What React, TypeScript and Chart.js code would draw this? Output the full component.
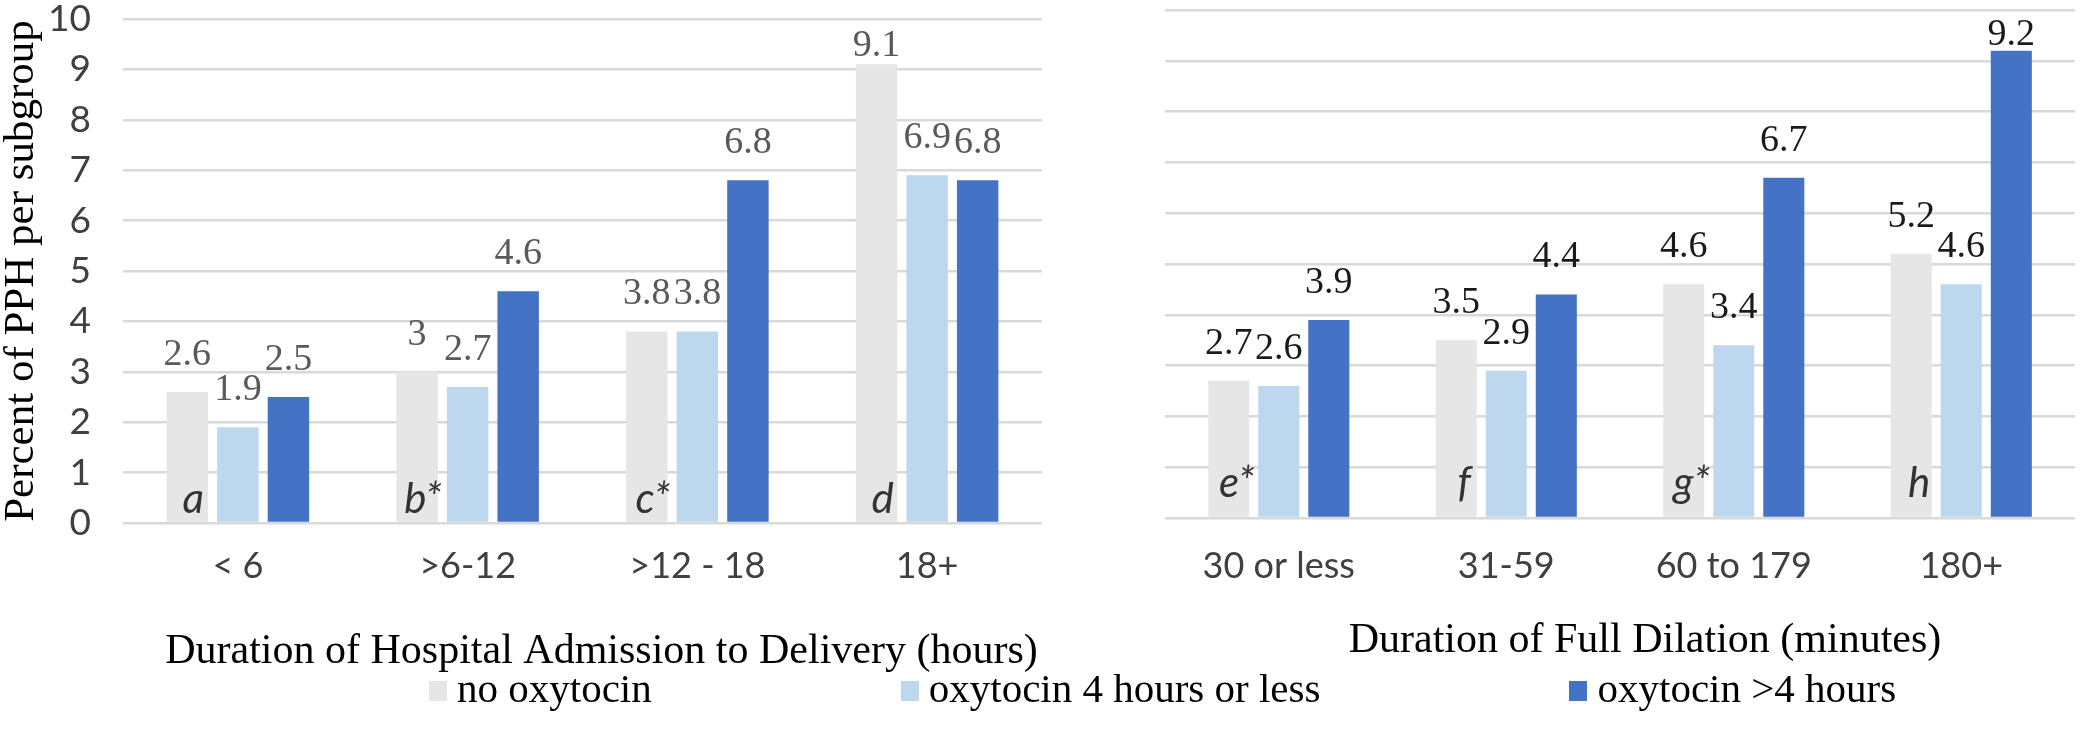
import React, { useEffect, useRef } from "react";
import { Chart, registerables } from "chart.js";

Chart.register(...registerables);

// ---------- data ----------
const seriesNames = ["no oxytocin", "oxytocin 4 hours or less", "oxytocin >4 hours"];
const seriesColors = ["#E7E6E6", "#BDD7EE", "#4472C4"];

const admissionCategories = ["< 6", ">6-12", ">12 - 18", "18+"];
const admissionNoOxytocin = [2.6, 3, 3.8, 9.1];
const admissionOxytocinShort = [1.9, 2.7, 3.8, 6.9];
const admissionOxytocinLong = [2.5, 4.6, 6.8, 6.8];
const admissionMarks = ["a", "b*", "c*", "d"];
const admissionTitle = "Duration of Hospital Admission to Delivery (hours)";

const dilationCategories = ["30 or less", "31-59", "60 to 179", "180+"];
const dilationNoOxytocin = [2.7, 3.5, 4.6, 5.2];
const dilationOxytocinShort = [2.6, 2.9, 3.4, 4.6];
const dilationOxytocinLong = [3.9, 4.4, 6.7, 9.2];
const dilationMarks = ["e*", "f", "g*", "h"];
const dilationTitle = "Duration of Full Dilation (minutes)";

const yAxisTitle = "Percent of PPH per subgroup";
const yMin = 0;
const yMax = 10;
const yStep = 1;

// ---------- styling ----------
const SERIF = "'Liberation Serif', 'Times New Roman', serif";
const SANS = "Lato, 'Liberation Sans', sans-serif";
const GRID = "#d9d9d9";
const LEFT_SHIFT = 40; // left canvas starts above the page to leave room for tick padding

type OverlayParams = {
  labelColor: string;
  labelFont: string;
  gap: number;
  minTop: number;
  marks: string[];
  markFont: string;
  markColor: string;
  markShift: number;
  markLift: number;
  title: string;
  titleFont: string;
  titleShift: number;
  titleY: number;
};

function makeOverlay(p: OverlayParams) {
  return {
    id: "overlay",
    afterDatasetsDraw(chart: any) {
      const { ctx, chartArea } = chart;
      ctx.save();
      ctx.textAlign = "center";
      ctx.textBaseline = "alphabetic";
      ctx.font = p.labelFont;
      ctx.fillStyle = p.labelColor;
      chart.data.datasets.forEach((ds: any, di: number) => {
        const meta = chart.getDatasetMeta(di);
        meta.data.forEach((bar: any, i: number) => {
          const v = ds.data[i];
          const baseline = Math.max(bar.y - p.gap, chartArea.top + p.minTop);
          ctx.fillText(String(v), bar.x, baseline);
        });
      });
      const meta0 = chart.getDatasetMeta(0);
      ctx.font = p.markFont;
      ctx.fillStyle = p.markColor;
      meta0.data.forEach((bar: any, i: number) => {
        ctx.fillText(p.marks[i], bar.x + p.markShift, chartArea.bottom - p.markLift);
      });
      ctx.restore();
    },
    afterDraw(chart: any) {
      const { ctx, chartArea } = chart;
      ctx.save();
      ctx.font = p.titleFont;
      ctx.fillStyle = "#000";
      ctx.textAlign = "center";
      ctx.textBaseline = "middle";
      ctx.fillText(p.title, (chartArea.left + chartArea.right) / 2 + p.titleShift, p.titleY);
      ctx.restore();
    },
  };
}

function makeDatasets(a: number[], b: number[], c: number[]) {
  return [a, b, c].map((d, i) => ({
    label: seriesNames[i],
    data: d,
    backgroundColor: seriesColors[i],
    borderWidth: 0,
    categoryPercentage: 0.66,
    barPercentage: 0.82,
  }));
}

export default function App() {
  const leftRef = useRef<HTMLCanvasElement>(null);
  const rightRef = useRef<HTMLCanvasElement>(null);

  useEffect(() => {
    const tickFont = { family: SANS, size: 36, lineHeight: 1 };

    const left = new Chart(leftRef.current as HTMLCanvasElement, {
      type: "bar",
      data: {
        labels: admissionCategories,
        datasets: makeDatasets(admissionNoOxytocin, admissionOxytocinShort, admissionOxytocinLong),
      },
      options: {
        responsive: false,
        animation: false,
        layout: { padding: { top: 19 + LEFT_SHIFT, right: 58, left: 0, bottom: 0 } },
        plugins: { legend: { display: false }, tooltip: { enabled: false } },
        scales: {
          x: {
            grid: { display: false, drawTicks: false },
            border: { display: false },
            ticks: { padding: 25, color: "#404040", font: tickFont },
            afterFit: (s: any) => {
              s.height = 157;
            },
          },
          y: {
            min: yMin,
            max: yMax,
            ticks: { stepSize: yStep, padding: 32, color: "#404040", font: { family: SANS, size: 37, lineHeight: 1 } },
            grid: { color: GRID, lineWidth: 2.5, drawTicks: false },
            border: { display: false },
            title: {
              display: true,
              text: yAxisTitle,
              color: "#000",
              font: { family: SERIF, size: 43, lineHeight: 1 },
              padding: 0,
            },
            afterFit: (s: any) => {
              s.width = 123;
            },
          },
        },
      },
      plugins: [
        makeOverlay({
          labelColor: "#595959",
          labelFont: `38px ${SERIF}`,
          gap: 27,
          minTop: 37,
          marks: admissionMarks,
          markFont: `italic 42px ${SANS}`,
          markColor: "#333333",
          markShift: 6,
          markLift: 10,
          title: admissionTitle,
          titleFont: `42px ${SERIF}`,
          titleShift: 19,
          titleY: 652 + LEFT_SHIFT,
        }),
      ],
    } as any);

    const right = new Chart(rightRef.current as HTMLCanvasElement, {
      type: "bar",
      data: {
        labels: dilationCategories,
        datasets: makeDatasets(dilationNoOxytocin, dilationOxytocinShort, dilationOxytocinLong),
      },
      options: {
        responsive: false,
        animation: false,
        layout: { padding: { top: 10, right: 9, left: 65, bottom: 0 } },
        plugins: { legend: { display: false }, tooltip: { enabled: false } },
        scales: {
          x: {
            grid: { display: false, drawTicks: false },
            border: { display: false },
            ticks: { padding: 30, color: "#404040", font: tickFont },
            afterFit: (s: any) => {
              s.height = 162;
            },
          },
          y: {
            min: yMin,
            max: yMax,
            ticks: { stepSize: yStep, display: false },
            grid: { color: GRID, lineWidth: 2.5, drawTicks: false },
            border: { display: false },
            afterFit: (s: any) => {
              s.width = 0;
            },
          },
        },
      },
      plugins: [
        makeOverlay({
          labelColor: "#1a1a1a",
          labelFont: `38px ${SERIF}`,
          gap: 27,
          minTop: 35,
          marks: dilationMarks,
          markFont: `italic 42px ${SANS}`,
          markColor: "#333333",
          markShift: 8,
          markLift: 21,
          title: dilationTitle,
          titleFont: `42px ${SERIF}`,
          titleShift: 25,
          titleY: 641,
        }),
      ],
    } as any);

    return () => {
      left.destroy();
      right.destroy();
    };
  }, []);

  return (
    <div
      style={{
        position: "absolute",
        left: 0,
        top: 0,
        width: 2084,
        height: 755,
        background: "#fff",
        overflow: "hidden",
      }}
    >
      <canvas
        ref={leftRef}
        width={1100}
        height={680 + LEFT_SHIFT}
        style={{ position: "absolute", left: 0, top: -LEFT_SHIFT, width: 1100, height: 680 + LEFT_SHIFT }}
      />
      <canvas
        ref={rightRef}
        width={984}
        height={680}
        style={{ position: "absolute", left: 1100, top: 0, width: 984, height: 680 }}
      />
      <div
        style={{
          position: "absolute",
          left: 429,
          top: 668,
          display: "flex",
          flexDirection: "row",
          alignItems: "center",
          columnGap: 249,
          fontFamily: SERIF,
          fontSize: 41,
          lineHeight: "41px",
          color: "#000",
          whiteSpace: "nowrap",
        }}
      >
        {seriesNames.map((name, i) => (
          <div key={name} style={{ display: "flex", alignItems: "center" }}>
            <span
              style={{
                display: "inline-block",
                width: 18,
                height: 20,
                background: seriesColors[i],
                marginRight: 10,
                marginTop: 4,
              }}
            />
            <span>{name}</span>
          </div>
        ))}
      </div>
    </div>
  );
}
